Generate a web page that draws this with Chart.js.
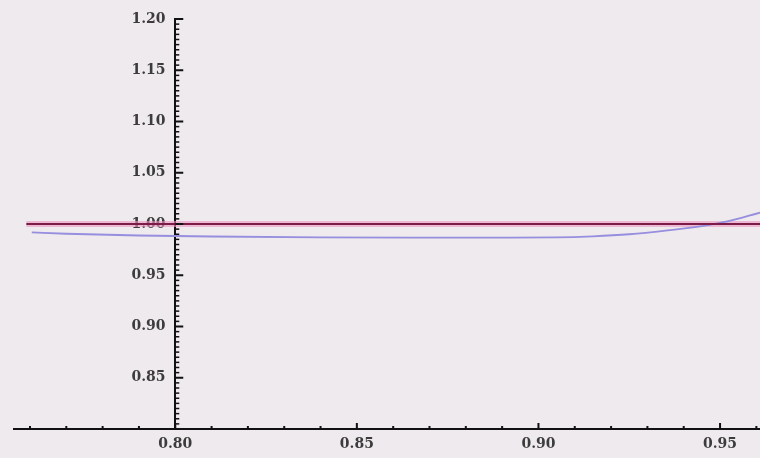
<!DOCTYPE html>
<html lang="en">
<head>
    <meta charset="UTF-8">
    <title>Plot</title>
    <script src="https://cdn.jsdelivr.net/npm/chart.js"></script>
    <style>
        html, body { margin: 0; padding: 0; background: #efeaed; }
        .container { width: 760px; height: 458px; }
    </style>
</head>
<body>
    <div class="container">
        <canvas id="myChart" width="760" height="458"></canvas>
    </div>

    <script>
        // data
        const xValues = [0.7605, 0.77, 0.79, 0.81, 0.84, 0.87, 0.89, 0.905, 0.915, 0.925, 0.935, 0.945, 0.952, 0.961];
        const curveValues = [0.9918, 0.9905, 0.9888, 0.9878, 0.9870, 0.9868, 0.9868, 0.9870, 0.9880, 0.9900, 0.9935, 0.9980, 1.0025, 1.0110];
        const refX = [0.759, 0.961];
        const refValues = [1.00, 1.00];

        // tick labels
        const xTickLabels = [0.80, 0.85, 0.90, 0.95];
        const yTickLabels = [0.85, 0.90, 0.95, 1.00, 1.05, 1.10, 1.15, 1.20];

        const toPoints = (xs, ys) => xs.map((x, i) => ({ x: x, y: ys[i] }));

        // small inward tick marks like the original plot
        const innerTicks = {
            id: 'innerTicks',
            afterDatasetsDraw(chart) {
                const ctx = chart.ctx;
                const xs = chart.scales.x;
                const ys = chart.scales.y;
                const axisX = xs.getPixelForValue(0.80);
                const axisY = ys.getPixelForValue(0.80);
                ctx.save();
                ctx.strokeStyle = '#111';
                // x ticks every 0.01
                for (let i = 76; i <= 96; i++) {
                    const px = xs.getPixelForValue(i / 100);
                    const major = i % 5 === 0;
                    ctx.lineWidth = 2;
                    ctx.beginPath();
                    ctx.moveTo(px, axisY);
                    ctx.lineTo(px, axisY - (major ? 6 : 3));
                    ctx.stroke();
                }
                // y ticks every 0.005
                for (let i = 160; i <= 240; i++) {
                    const py = ys.getPixelForValue(i / 200);
                    const major = i % 10 === 0;
                    ctx.lineWidth = major ? 2 : 1.5;
                    ctx.beginPath();
                    ctx.moveTo(axisX, py);
                    ctx.lineTo(axisX + (major ? 8 : 4), py);
                    ctx.stroke();
                }
                ctx.restore();
            }
        };

        const labelFont = { family: 'DejaVu Serif', size: 14, weight: 'bold' };

        const config = {
            type: 'scatter',
            data: {
                datasets: [{
                    label: 'halo',
                    data: toPoints(refX, refValues),
                    showLine: true,
                    borderColor: 'rgba(235, 150, 195, 0.6)',
                    borderWidth: 6,
                    pointRadius: 0,
                    order: 3
                }, {
                    label: 'reference',
                    data: toPoints(refX, refValues),
                    showLine: true,
                    borderColor: '#7c1c46',
                    borderWidth: 2,
                    pointRadius: 0,
                    order: 1
                }, {
                    label: 'curve',
                    data: toPoints(xValues, curveValues),
                    showLine: true,
                    cubicInterpolationMode: 'monotone',
                    borderColor: '#968ede',
                    borderWidth: 1.8,
                    pointRadius: 0,
                    order: 2
                }]
            },
            options: {
                responsive: false,
                animation: false,
                layout: { padding: { left: 14, right: 0, top: 19, bottom: 0 } },
                plugins: {
                    legend: { display: false },
                    tooltip: { enabled: false }
                },
                scales: {
                    x: {
                        type: 'linear',
                        min: 0.7556,
                        max: 0.961,
                        afterBuildTicks: s => { s.ticks = xTickLabels.map(v => ({ value: v })); },
                        afterFit: s => { s.height = 29; },
                        grid: { drawOnChartArea: false, drawTicks: false },
                        border: { color: '#111', width: 2 },
                        ticks: {
                            padding: 7,
                            color: '#3c3c3c',
                            font: labelFont,
                            callback: v => v.toFixed(2)
                        }
                    },
                    y: {
                        type: 'linear',
                        position: { x: 0.80 },
                        min: 0.80,
                        max: 1.20,
                        afterBuildTicks: s => { s.ticks = yTickLabels.map(v => ({ value: v })); },
                        grid: { drawOnChartArea: false, drawTicks: false },
                        border: { color: '#111', width: 2 },
                        ticks: {
                            color: '#3c3c3c',
                            font: labelFont,
                            // trailing spaces keep the right-aligned labels off the axis line
                            callback: v => v.toFixed(2) + '  '
                        }
                    }
                }
            },
            plugins: [innerTicks]
        };

        new Chart(document.getElementById('myChart'), config);
    </script>
</body>
</html>
